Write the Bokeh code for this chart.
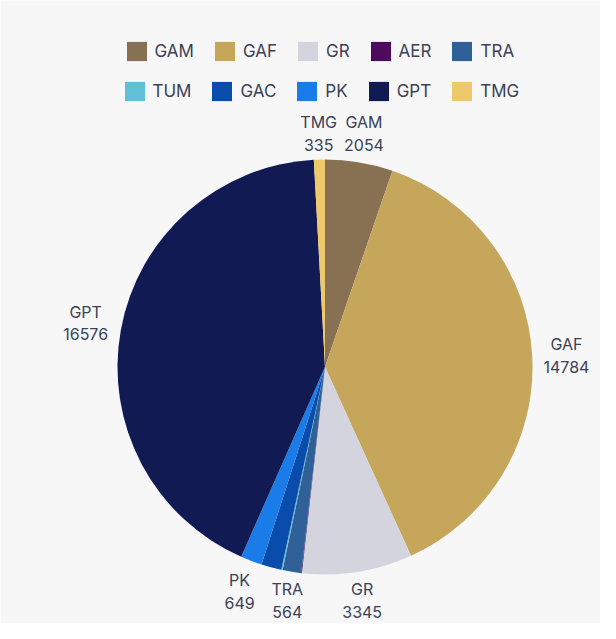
import math
from bokeh.plotting import figure
from bokeh.models import ColumnDataSource, Range1d, Legend, LegendItem
from bokeh.embed import file_html
from bokeh.resources import INLINE
from bokeh.core.properties import value

# ---- data ----
categories = ["GAM", "GAF", "GR", "AER", "TRA", "TUM", "GAC", "PK", "GPT", "TMG"]
values = [2054, 14784, 3345, 20, 564, 40, 613, 649, 16576, 335]
colors = ["#877152", "#c6a65b", "#d4d4de", "#4e0a5c", "#2f6098",
          "#62c0d6", "#0a4cab", "#1a7ce8", "#111a52", "#edc96b"]
labeled = ["GAM", "GAF", "GR", "TRA", "PK", "GPT", "TMG"]
legend_rows = [categories[:5], categories[5:]]

# ---- layout ----
W, H = 600, 623
CX, CY = 324.5, 256.5     # pie centre, px from frame left / bottom
RADIUS = 207.5
BG = "#f7f7f8"
TXT = "#3b4156"
FONT = "Inter"

total = float(sum(values))
starts, ends, mids = [], [], []
cum = 0.0
for v in values:
    a0 = cum / total * 2 * math.pi
    cum += v
    a1 = cum / total * 2 * math.pi
    starts.append(math.pi / 2 - a1)
    ends.append(math.pi / 2 - a0)
    mids.append((a0 + a1) / 2)

src = ColumnDataSource(dict(cat=categories, val=values, color=colors,
                            start=starts, end=ends))

lx, ly, lt = [], [], []
for c, v, m in zip(categories, values, mids):
    if c not in labeled:
        continue
    rl = 218 + 23 * abs(math.sin(m)) + 15 * abs(math.cos(m))
    lx.append(rl * math.sin(m))
    ly.append(rl * math.cos(m))
    lt.append(f"{c}\n{v}")
lsrc = ColumnDataSource(dict(x=lx, y=ly, text=lt))

p = figure(width=W, height=H, output_backend="svg", toolbar_location=None,
           x_range=Range1d(-CX, W - CX), y_range=Range1d(-CY, H - CY),
           min_border=0, background_fill_color=BG, border_fill_color=BG)
p.axis.visible = False
p.grid.visible = False
p.outline_line_color = None

r = p.wedge(x=0, y=0, radius=RADIUS, start_angle="start", end_angle="end",
            direction="anticlock", fill_color="color", line_color=None,
            source=src)

p.text(x="x", y="y", text="text", source=lsrc, text_align="center",
       text_baseline="middle", text_font=value(FONT), text_font_size="16px",
       text_color=TXT, text_line_height=1.12)

legend_pos = [(123.5, 560.4), (121.5, 520.4)]
for row, pos in zip(legend_rows, legend_pos):
    items = [LegendItem(label=c, renderers=[r], index=categories.index(c))
             for c in row]
    leg = Legend(items=items, orientation="horizontal", location=pos,
                 border_line_color=None, background_fill_alpha=0,
                 padding=0, margin=0, glyph_width=25, glyph_height=24,
                 label_height=24, label_standoff=6, spacing=18,
                 label_text_font=FONT, label_text_font_size="17px",
                 label_text_color=TXT)
    p.add_layout(leg)

open("out.html", "w").write(file_html(p, INLINE))
